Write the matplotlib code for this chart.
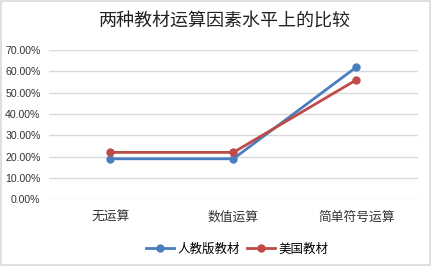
import numpy as np
import matplotlib.pyplot as plt
from matplotlib.patches import Rectangle
from matplotlib.ticker import PercentFormatter

plt.rcParams['font.family'] = ['Liberation Sans', 'Noto Sans CJK SC', 'DejaVu Sans']

title = "两种教材运算因素水平上的比较"
categories = ["无运算", "数值运算", "简单符号运算"]
series_names = ["人教版教材", "美国教材"]
renjiao = [0.19, 0.19, 0.62]
meiguo = [0.22, 0.22, 0.56]
colors = ["#4A7EBF", "#BF4B48"]

fig = plt.figure(figsize=(4.33, 2.68), dpi=100)
ax = fig.add_axes([0.113, 0.2563, 0.852, 0.5571])

x = np.arange(len(categories))
for vals, name, c in zip([renjiao, meiguo], series_names, colors):
    ax.plot(x, vals, color=c, linewidth=2.0, marker="o", markersize=5, label=name)

ax.set_xlim(-0.5, 2.5)
ax.set_ylim(0, 0.7)
ax.set_yticks(np.arange(0, 0.71, 0.1))
ax.yaxis.set_major_formatter(PercentFormatter(1.0, decimals=2))
ax.set_xticks(x)
ax.set_xticklabels(categories, fontsize=9.2, family=['Noto Sans CJK SC', 'DejaVu Sans'])
ax.tick_params(axis='y', length=0, pad=6, labelsize=7.6, colors="#333333")
ax.tick_params(axis='x', length=0, pad=8, colors="#333333")
ax.grid(axis='y', color="#D9D9D9", linewidth=1.0)
ax.set_axisbelow(True)
for s in ax.spines.values():
    s.set_visible(False)

fig.text(0.52, 0.918, title, ha="center", va="center", fontsize=13,
         family=['Noto Sans CJK SC', 'DejaVu Sans'], color="#222222")

fig.legend(loc="center", bbox_to_anchor=(0.548, 0.071), ncol=2, frameon=False,
           prop={'family': ['Noto Sans CJK SC', 'DejaVu Sans'], 'size': 9},
           handlelength=2.2, columnspacing=0.6, handletextpad=0.3)

fig.patches.append(Rectangle((0.003, 0.01), 0.99, 0.985, transform=fig.transFigure,
                             fill=False, edgecolor="#D9D9D9", linewidth=1.2))

fig.savefig("out.png", dpi=100)
